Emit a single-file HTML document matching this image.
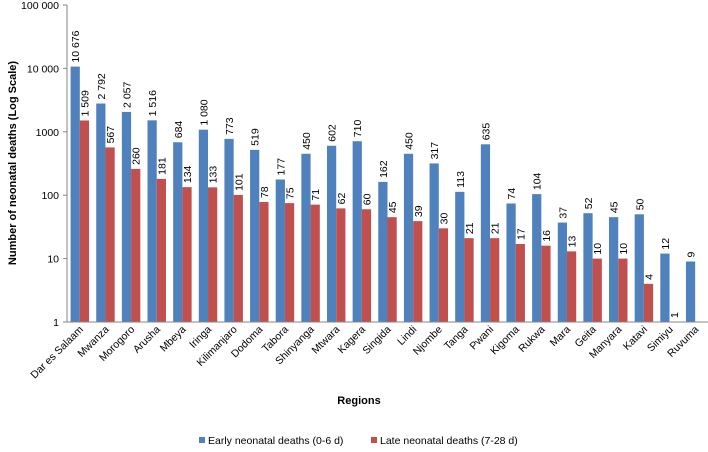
<!DOCTYPE html>
<html><head><meta charset="utf-8"><style>
html,body{margin:0;padding:0;background:#fff;}
svg text{font-family:"Liberation Sans",sans-serif;fill:#000;}
</style></head><body>
<svg id="chart" width="708" height="447" xmlns="http://www.w3.org/2000/svg">
<g id="bars"></g>
<g id="labels"></g>
<g id="axes"></g>
<text transform="translate(16,163) rotate(-90)" text-anchor="middle" font-size="11" font-weight="bold">Number of neonatal deaths (Log Scale)</text>
<text x="359" y="404" text-anchor="middle" font-size="11" font-weight="bold">Regions</text>
<g>
<rect x="199" y="437" width="6" height="6" fill="#4f81bd"/>
<text x="208" y="444" font-size="10.5">Early neonatal deaths (0-6 d)</text>
<rect x="371" y="437" width="6" height="6" fill="#c0504d"/>
<text x="380" y="444" font-size="10.5">Late neonatal deaths (7-28 d)</text>
</g>
</svg>
<script>
const cats=["Dar es Salaam","Mwanza","Morogoro","Arusha","Mbeya","Iringa","Kilimanjaro","Dodoma","Tabora","Shinyanga","Mtwara","Kagera","Singida","Lindi","Njombe","Tanga","Pwani","Kigoma","Rukwa","Mara","Geita","Manyara","Katavi","Simiyu","Ruvuma"];
const early=[10676,2792,2057,1516,684,1080,773,519,177,450,602,710,162,450,317,113,635,74,104,37,52,45,50,12,9];
const late=[1509,567,260,181,134,133,101,78,75,71,62,60,45,39,30,21,21,17,16,13,10,10,4,1,null];
const yTicks=[1,10,100,1000,10000,100000];
const yTickLabels=["1","10","100","1000","10 000","100 000"];
const NS="http://www.w3.org/2000/svg";
const x0=67,x1=708,yTop=5,yBot=322;
const n=cats.length,cw=(x1-x0)/n,bw=cw*0.36,pad=(cw-2*bw)/2;
function y(v){return yBot-Math.log10(v)/5*(yBot-yTop);}
function fmt(v){return v>=1000&&v!==1000?String(v).replace(/\B(?=(\d{3})+(?!\d))/g," "):String(v);}
function el(t,a,p){const e=document.createElementNS(NS,t);for(const k in a)e.setAttribute(k,a[k]);p.appendChild(e);return e;}
const bars=document.getElementById('bars'),labels=document.getElementById('labels'),axes=document.getElementById('axes');
cats.forEach((c,i)=>{
  const bx=x0+i*cw+pad;
  [[early[i],'#4f81bd',bx,'early'],[late[i],'#c0504d',bx+bw,'late']].forEach(([v,col,xx,s])=>{
    if(v==null)return;
    const yy=y(v);
    if(v>1){
      const r=el('rect',{x:xx,y:yy,width:bw,height:yBot-yy,fill:col},bars);
      
      
    }
    const cx=xx+bw/2+4,cy=yy-4;
    const t=el('text',{transform:`translate(${cx},${cy}) rotate(-90)`,'font-size':'10.5'},labels);
    t.textContent=fmt(v);
    
    
  });
  const lx=x0+i*cw+cw/2+4,ly=yBot+8;
  const t=el('text',{transform:`translate(${lx},${ly}) rotate(-45)`,'text-anchor':'end','font-size':'10.5'},axes);
  t.textContent=c;
  
  
});
el('line',{x1:x0,y1:yTop,x2:x0,y2:yBot,stroke:'#868686'},axes);
const xl=el('line',{x1:x0,y1:yBot,x2:x1,y2:yBot,stroke:'#868686'},axes);


yTicks.forEach((v,i)=>{
  el('line',{x1:x0-4,y1:y(v),x2:x0,y2:y(v),stroke:'#868686'},axes);
  const t=el('text',{x:x0-8,y:y(v)+4,'text-anchor':'end','font-size':'10.5'},axes);
  t.textContent=yTickLabels[i];
  
  
});
</script>
</body></html>
